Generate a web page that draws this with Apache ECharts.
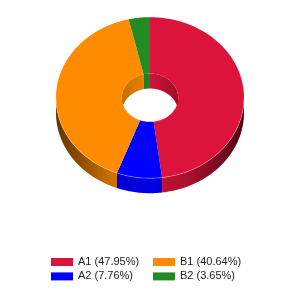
<!DOCTYPE html>
<html>
<head>
<meta charset="utf-8">
<script src="https://cdn.jsdelivr.net/npm/echarts@6/dist/echarts.min.js"></script>
<style>
  html, body { margin: 0; padding: 0; background: #fff; }
  #chart { width: 300px; height: 300px; }
</style>
</head>
<body>
<div id="chart"></div>
<script>
// slice data, clockwise from 12 o'clock
const categories = ["A1", "A2", "B1", "B2"];
const values = [47.95, 7.76, 40.64, 3.65];
const colors = ["#DC143C", "#0000FF", "#FF8C00", "#228B22"];

const total = values.reduce((a, b) => a + b, 0);
const labels = categories.map((c, i) => `${c} (${(values[i] / total * 100).toFixed(2)}%)`);

// tilted donut geometry
const cx = 150, cy = 97.7, rx = 94, ry = 80.5, hole = 0.3, depth = 15;

function shade(hex, f) {
  const n = parseInt(hex.slice(1), 16);
  const r = Math.round(((n >> 16) & 255) * f);
  const g = Math.round(((n >> 8) & 255) * f);
  const b = Math.round((n & 255) * f);
  return `rgb(${r},${g},${b})`;
}

function pt(deg, k, dy) {
  const a = deg * Math.PI / 180;
  return [cx + rx * k * Math.sin(a), cy - ry * k * Math.cos(a) + dy];
}

function arc(a0, a1, k, dy) {
  const pts = [];
  const n = Math.max(2, Math.ceil(Math.abs(a1 - a0)));
  for (let j = 0; j <= n; j++) pts.push(pt(a0 + (a1 - a0) * j / n, k, dy));
  return pts;
}

function wall(a0, a1, k) {
  return arc(a0, a1, k, 0).concat(arc(a1, a0, k, depth));
}

function renderItem(params, api) {
  const i = params.dataIndex;
  let before = 0;
  for (let j = 0; j < i; j++) before += values[j];
  const a0 = before / total * 360;
  const a1 = (before + values[i]) / total * 360;
  const col = colors[i];
  const children = [];

  // outer side, front half only
  const s0 = Math.max(a0, 90), s1 = Math.min(a1, 270);
  if (s1 > s0) {
    children.push({
      type: "polygon",
      z2: 1,
      shape: { points: wall(s0, s1, 1) },
      style: {
        fill: new echarts.graphic.LinearGradient(cx - rx, 0, cx + rx, 0, [
          { offset: 0, color: shade(col, 0.38) },
          { offset: 0.3, color: shade(col, 0.8) },
          { offset: 0.5, color: shade(col, 0.9) },
          { offset: 0.7, color: shade(col, 0.78) },
          { offset: 1, color: shade(col, 0.36) }
        ], true)
      }
    });
    children.push({
      type: "polyline",
      z2: 12,
      shape: { points: arc(s0, s1, 1, 0) },
      style: { stroke: "rgba(255,255,255,0.3)", lineWidth: 1, fill: null }
    });
  }

  // inner wall, back half only
  [[0, 90], [270, 360]].forEach(([b0, b1]) => {
    const w0 = Math.max(a0, b0), w1 = Math.min(a1, b1);
    if (w1 > w0) {
      children.push({
        type: "polygon",
        z2: 0,
        shape: { points: wall(w0, w1, hole) },
        style: {
          fill: new echarts.graphic.LinearGradient(cx - rx * hole, 0, cx + rx * hole, 0, [
            { offset: 0, color: shade(col, 0.78) },
            { offset: 0.5, color: shade(col, 0.95) },
            { offset: 1, color: shade(col, 0.72) }
          ], true)
        }
      });
    }
  });

  // top face
  children.push({
    type: "polygon",
    z2: 10,
    shape: { points: arc(a0, a1, 1, 0).concat(arc(a1, a0, hole, 0)) },
    style: { fill: col }
  });

  return { type: "group", children: children };
}

const legendBase = {
  orient: "vertical",
  top: 256,
  padding: 0,
  itemWidth: 22,
  itemHeight: 8,
  itemGap: 2.4,
  icon: "rect",
  selectedMode: false,
  textStyle: { color: "#222", fontSize: 11, lineHeight: 12, fontFamily: "Arial, 'Liberation Sans'" }
};

const chart = echarts.init(document.getElementById("chart"));
chart.setOption({
  animation: false,
  legend: [
    Object.assign({}, legendBase, { data: [labels[0], labels[1]], left: 51 }),
    Object.assign({}, legendBase, { data: [labels[2], labels[3]], left: 153 })
  ],
  series: [
    {
      type: "custom",
      coordinateSystem: "none",
      silent: true,
      renderItem: renderItem,
      data: values.map((v, i) => ({ name: categories[i], value: v }))
    },
    {
      // only feeds the legend
      type: "pie",
      radius: [0, 0],
      silent: true,
      label: { show: false },
      labelLine: { show: false },
      data: labels.map((l, i) => ({ name: l, value: values[i], itemStyle: { color: colors[i] } }))
    }
  ]
});
</script>
</body>
</html>
